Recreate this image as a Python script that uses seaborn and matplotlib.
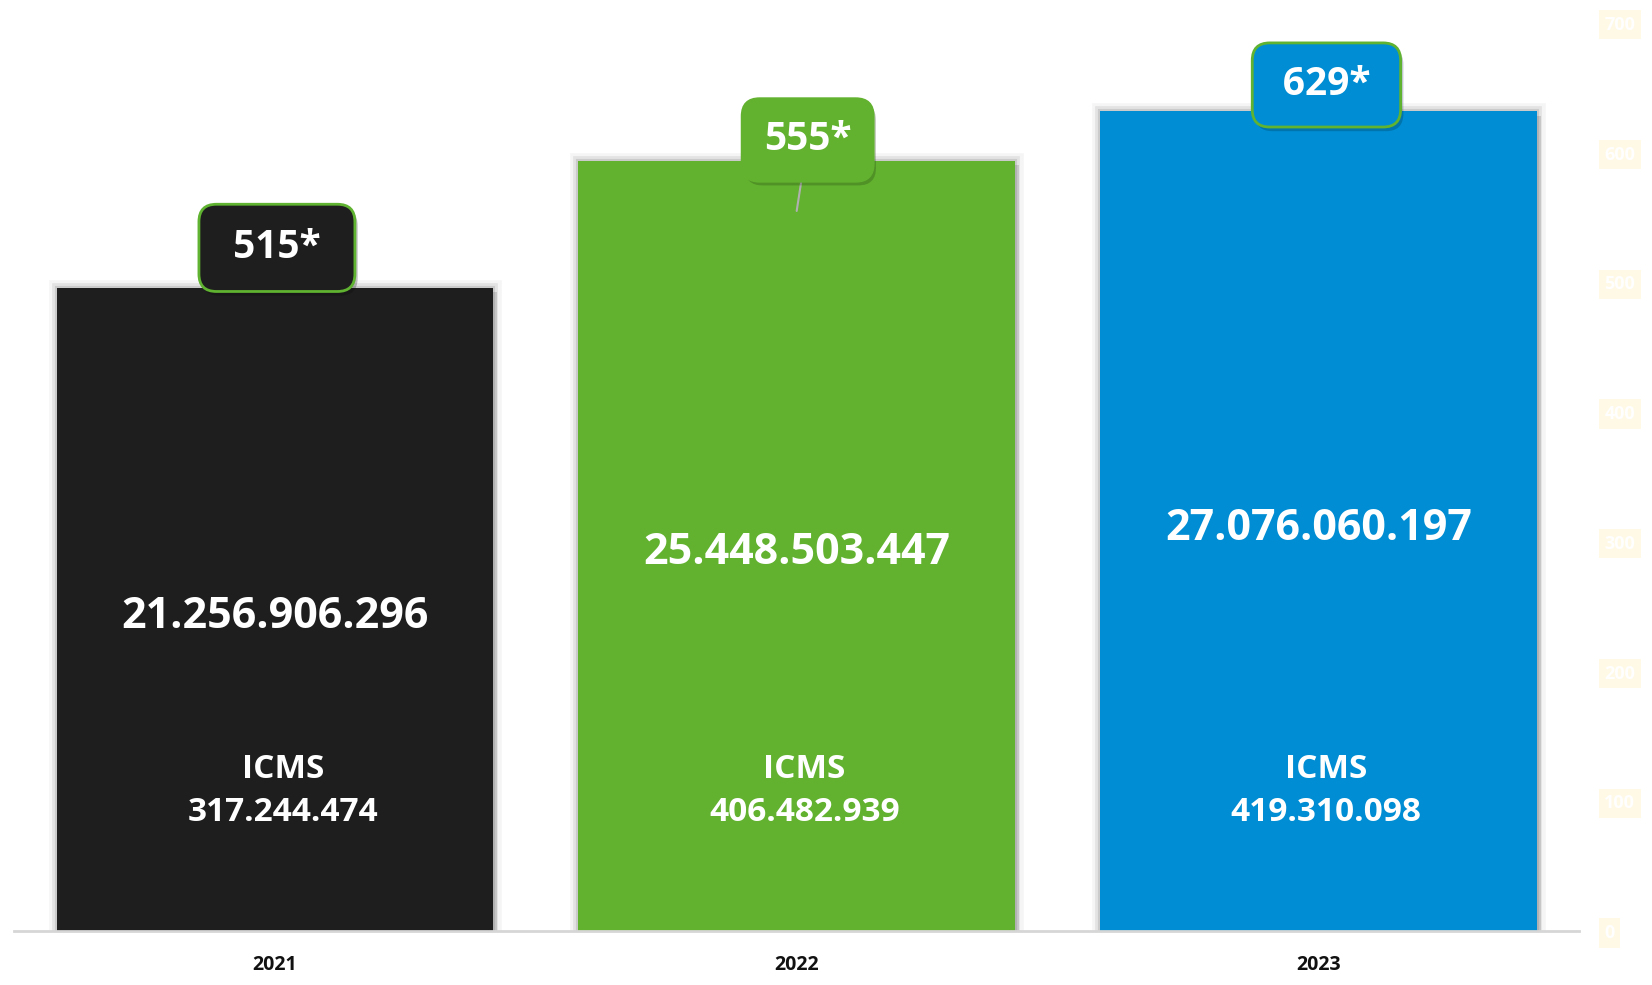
import matplotlib
matplotlib.use("Agg")
import matplotlib.pyplot as plt
import matplotlib.patheffects as pe
import matplotlib.transforms as mtransforms
import seaborn as sns
import pandas as pd

# --- dados ---
anos = ['2021', '2022', '2023']
faturamento = [21256906296, 25448503447, 27076060197]
icms = [317244474, 406482939, 419310098]
quantidade = [515, 555, 629]
cores = ['#1e1e1e', '#62b22f', '#008dd3']
ticks_direita = [0, 100, 200, 300, 400, 500, 600, 700]


def fmt(v):
    return f"{v:,}".replace(',', '.')


df = pd.DataFrame({'ano': anos, 'faturamento': faturamento})

sns.set_theme(style='white')
plt.rcParams['font.family'] = ['Open Sans', 'DejaVu Sans']

fig = plt.figure(figsize=(16.52, 9.85), dpi=100)
ax = fig.add_axes([0.0085, 0.0548, 0.9475, 0.922])

sns.barplot(data=df, x='ano', y='faturamento', hue='ano', palette=cores,
            saturation=1, width=0.837, legend=False, ax=ax, zorder=2,
            edgecolor='none', linewidth=0)

# sombra suave nas barras
for bar in ax.patches:
    bar.set_path_effects([
        pe.SimplePatchShadow(offset=(3, -3), shadow_rgbFace='black', alpha=0.12),
        pe.Stroke(linewidth=12, foreground='black', alpha=0.04),
        pe.Stroke(linewidth=7, foreground='black', alpha=0.07),
        pe.Stroke(linewidth=3, foreground='black', alpha=0.10),
        pe.Normal(),
    ])

ax.set_xlim(-0.5, 2.5)
ax.set_ylim(0, 30e9)
ax.set_yticks([])
ax.set_xlabel('')
ax.set_ylabel('')
for s in ['top', 'left', 'right']:
    ax.spines[s].set_visible(False)
ax.spines['bottom'].set_color('#d6d6d6')
ax.spines['bottom'].set_linewidth(2)
ax.tick_params(axis='x', length=0, pad=17, labelsize=14)
for lbl in ax.get_xticklabels():
    lbl.set_fontweight('bold')
    lbl.set_color('#111111')

# valores dentro das barras
trans = mtransforms.blended_transform_factory(ax.transData, ax.transAxes)
for i, (v, ic) in enumerate(zip(faturamento, icms)):
    ax.annotate(fmt(v), xy=(i, v / 2), xytext=(0, -7), textcoords='offset pixels',
                ha='center', va='center', color='white',
                fontsize=31, fontweight='bold', zorder=5)
    ax.text(i + 0.015, 0.154, 'ICMS\n' + fmt(ic), transform=trans, ha='center',
            va='center', color='white', fontsize=24, fontweight='bold',
            linespacing=1.38, zorder=5)

# eixo secundario com a quantidade
ax2 = ax.twinx()
ax2.set_ylim(0, 700)
ax2.set_yticks(ticks_direita)
ax2.set_yticklabels([str(t) for t in ticks_direita])
for s in ax2.spines.values():
    s.set_visible(False)
ax2.tick_params(axis='y', length=0, pad=18, labelsize=13, labelcolor='white')
for lbl in ax2.get_yticklabels():
    lbl.set_fontweight('bold')
    lbl.set_bbox(dict(facecolor='#fff9e6', edgecolor='none', pad=4))

offsets = [(2, 15), (11, 71), (8, 30)]
rotulos = [' 515* ', '555*', '\u2009629*\u2009']
pads = [0.62, 0.56, 0.58]
bordas = ['#5fb330', '#62b22f', '#5fb330']
for i, q in enumerate(quantidade):
    arrow = None
    if i == 1:
        arrow = dict(arrowstyle='-', color='#b0b0b0', lw=1.5, shrinkA=0, shrinkB=0)
    ax2.annotate(rotulos[i], xy=(i, q), xytext=offsets[i],
                 textcoords='offset pixels', ha='center', va='center',
                 color='white', fontsize=28, fontweight='bold', zorder=10,
                 arrowprops=arrow,
                 bbox=dict(boxstyle=f'round,pad={pads[i]},rounding_size=0.45',
                           facecolor=cores[i], edgecolor=bordas[i], linewidth=2,
                           path_effects=[pe.SimplePatchShadow(offset=(2, -3), alpha=0.25),
                                         pe.Normal()]))

fig.savefig('out.png', dpi=100)
